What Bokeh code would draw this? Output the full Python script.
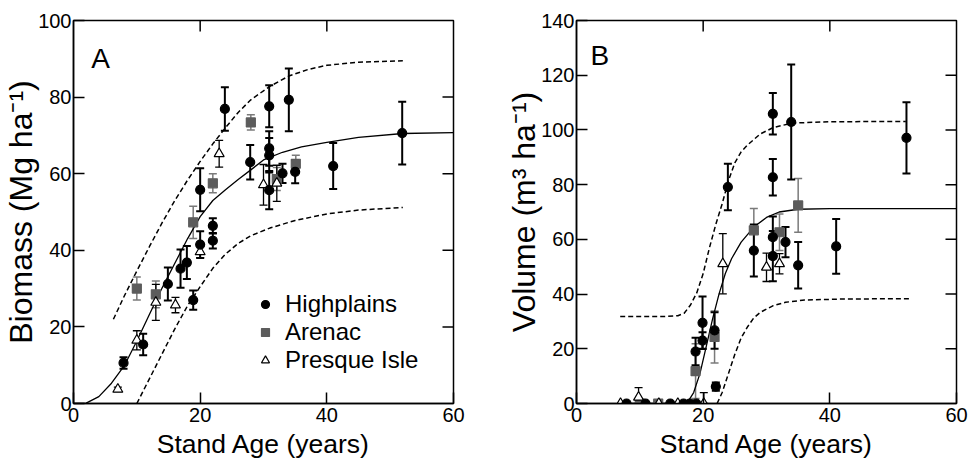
from bokeh.plotting import figure
from bokeh.layouts import row
from bokeh.models import (ColumnDataSource, Whisker, TeeHead, Range1d, FixedTicker,
                          Label, Legend, LegendItem, Title)
from bokeh.embed import file_html
from bokeh.resources import INLINE

FONT = "Liberation Sans"

# ---------------- Panel A : Biomass ----------------
a_hp_x = [7.9, 11.0, 14.9, 16.9, 17.9, 18.9, 20.0, 20.0, 22.0, 22.0, 23.9, 27.9, 30.9, 30.9, 30.9, 30.9, 33.0, 34.0, 35.0, 41.0, 51.9]
a_hp_y = [10.6, 15.4, 31.2, 35.2, 36.8, 27.0, 41.5, 55.8, 42.5, 46.4, 76.9, 63.0, 77.6, 66.6, 64.8, 55.7, 60.1, 79.3, 60.5, 62.0, 70.6]
a_hp_e = [1.5, 2.8, 4.3, 5.0, 4.3, 2.5, 3.5, 5.6, 2.0, 2.0, 5.7, 4.5, 5.5, 4.5, 4.5, 5.0, 2.5, 8.2, 3.0, 6.0, 8.2]

a_ar_x = [10.0, 13.0, 18.9, 22.0, 28.0, 32.1, 35.1]
a_ar_y = [30.0, 28.5, 47.3, 57.5, 73.4, 58.6, 62.6]
a_ar_e = [3.0, 3.5, 4.2, 2.5, 2.0, 3.0, 2.2]

a_pi_x = [7.0, 10.0, 13.0, 16.1, 20.0, 23.0, 30.0, 32.1]
a_pi_y = [3.7, 16.5, 26.4, 25.7, 39.6, 65.2, 57.1, 57.5]
a_pi_e = [0.6, 2.5, 4.7, 2.0, 1.5, 3.5, 5.3, 4.7]

a_fit_x = [0, 2, 4, 6, 8, 10, 12, 14, 16, 18, 20, 22, 24, 26, 28, 30, 33, 36, 40, 45, 52, 60]
a_fit_y = [0, 0.1, 1.8, 5.3, 9.8, 16.3, 23.3, 30.2, 36.6, 43.0, 48.8, 53.0, 55.8, 58.5, 61.0, 63.6, 65.6, 67.0, 68.2, 69.5, 70.5, 70.7]
a_up_x = [6.3, 8, 10, 12, 14, 16, 18, 20, 22, 24, 26, 28, 31, 34, 37, 40, 45, 52]
a_up_y = [22.0, 28.0, 34.6, 41.0, 47.2, 53.0, 58.3, 63.2, 67.8, 72.0, 76.0, 79.3, 82.8, 85.5, 87.2, 88.3, 89.1, 89.5]
a_lo_x = [10, 12, 14, 16, 18, 20, 22, 24, 26, 28, 31, 35, 40, 45, 52]
a_lo_y = [0, 6.5, 13.0, 19.5, 25.5, 30.5, 35.3, 39.0, 41.8, 43.8, 45.8, 47.8, 49.5, 50.5, 51.2]

# ---------------- Panel B : Volume ----------------
b_hp_x = [7.9, 10.9, 14.8, 16.9, 17.9, 18.9, 18.8, 19.9, 19.9, 21.8, 22.0, 23.9, 28.0, 31.0, 31.0, 31.0, 31.0, 33.0, 33.9, 35.0, 41.0, 52.1]
b_hp_y = [0, 0, 0, 0, 0, 0, 19.0, 23.0, 29.5, 26.7, 6.2, 79.1, 55.9, 105.9, 82.7, 60.8, 53.9, 59.0, 102.9, 50.5, 57.4, 97.1]
b_hp_e = [0, 0, 0, 0, 0, 0, 5.0, 3.0, 9.6, 6.7, 1.5, 8.5, 9.5, 7.6, 6.7, 7.6, 9.2, 5.5, 21.0, 8.5, 10.0, 13.0]

b_ar_x = [10.0, 12.9, 18.8, 21.8, 28.0, 32.05, 35.0]
b_ar_y = [0, 0, 11.8, 24.3, 63.3, 62.6, 72.4]
b_ar_e = [0, 0, 10.0, 9.5, 8.0, 6.7, 9.8]

b_pi_x = [6.95, 9.8, 13.0, 16.0, 20.1, 23.1, 30.0, 32.05]
b_pi_y = [0, 2.3, 0, 0, 0, 51.1, 49.8, 51.1]
b_pi_e = [0, 3.5, 0, 0, 4.0, 11.0, 5.2, 3.7]

b_fit_x = [7, 15, 17, 17.5, 18.5, 19.5, 20.5, 21.5, 22.5, 23.5, 24.5, 26, 28, 30, 32, 35, 40, 50, 60]
b_fit_y = [0, 0, 0, 0.3, 4, 11, 21, 31, 40, 47.5, 53, 59, 64.5, 68, 70, 71, 71.2, 71.2, 71.2]
b_up_x = [6.9, 10, 14, 16, 17, 18, 19, 20, 21, 22, 23, 24, 25, 26, 27, 29, 31, 34, 40, 52]
b_up_y = [31.8, 31.8, 31.8, 32.1, 33.0, 36.0, 40.5, 47.5, 57.0, 65.5, 73.0, 81.5, 88.0, 92.0, 94.5, 98.5, 100.8, 102.5, 103.0, 103.1]
b_lo_x = [22.2, 23, 24, 25, 26, 27, 28, 29, 31, 33, 36, 42, 52.5]
b_lo_y = [0, 4, 11, 18, 24, 28, 31.3, 33.3, 35.7, 37.0, 37.8, 38.2, 38.3]

x_ticks = [0, 20, 40, 60]
a_y_ticks = [0, 20, 40, 60, 80, 100]
b_y_ticks = [0, 20, 40, 60, 80, 100, 120, 140]
series_names = ["Highplains", "Arenac", "Presque Isle"]

SQ_FILL = "#5c5c5c"
SQ_ERR = "#7a7a7a"
FRAME_W = 380
FRAME_H = 383
TICK_PX = 11


def style_axes(p, yt, ymax):
    for ax in p.xaxis + p.yaxis:
        ax.major_tick_in = TICK_PX
        ax.major_tick_out = 0
        ax.minor_tick_line_color = None
        ax.axis_line_color = "black"
        ax.axis_line_width = 1.5
        ax.major_tick_line_color = "black"
        ax.major_tick_line_width = 1.5
        ax.major_label_text_font = FONT
        ax.major_label_text_font_size = "20px"
        ax.major_label_text_color = "black"
    p.xaxis.ticker = FixedTicker(ticks=x_ticks)
    p.yaxis.ticker = FixedTicker(ticks=yt)
    p.xaxis.major_label_standoff = 4
    p.yaxis.major_label_standoff = 2
    p.xgrid.visible = False
    p.ygrid.visible = False
    p.outline_line_color = "black"
    p.outline_line_width = 1.5
    # inner mirror ticks on the top and right edges of the frame
    xin = [t for t in x_ticks if 0 < t < 60]
    yin = [t for t in yt if 0 < t < ymax]
    dy = TICK_PX * ymax / FRAME_H
    dx = TICK_PX * 60 / FRAME_W
    p.segment(x0=xin, y0=[ymax] * len(xin), x1=xin, y1=[ymax - dy] * len(xin),
              line_color="black", line_width=1.5)
    p.segment(x0=[60] * len(yin), y0=yin, x1=[60 - dx] * len(yin), y1=yin,
              line_color="black", line_width=1.5)


def add_series(p, xs, ys, es, marker, size, fill, line, ecol, ew):
    bx, up, lo = [], [], []
    for x, y, e in zip(xs, ys, es):
        if e > 0:
            bx.append(x)
            up.append(y + e)
            lo.append(max(y - e, 0))
    wsrc = ColumnDataSource(dict(base=bx, upper=up, lower=lo))
    w = Whisker(source=wsrc, base="base", upper="upper", lower="lower", dimension="height",
                line_color=ecol, line_width=ew, level="underlay",
                upper_head=TeeHead(size=8, line_color=ecol, line_width=ew),
                lower_head=TeeHead(size=8, line_color=ecol, line_width=ew))
    p.add_layout(w)
    src = ColumnDataSource(dict(x=xs, y=ys))
    return p.scatter("x", "y", source=src, marker=marker, size=size,
                     fill_color=fill, line_color=line, line_width=1.2)


def make_panel(width, mbl, mbr, ymax, yt, fit, up, lo, hp, ar, pi, letter, letter_xy,
               ytitle, xoff):
    p = figure(width=width, height=462, output_backend="svg", toolbar_location=None,
               x_range=Range1d(0, 60), y_range=Range1d(0, ymax),
               min_border_left=mbl, min_border_right=mbr, min_border_top=20, min_border_bottom=59)
    p.background_fill_color = "white"
    p.border_fill_color = "white"
    style_axes(p, yt, ymax)
    p.line(up[0], up[1], line_color="black", line_width=1.5, line_dash="5 3")
    p.line(lo[0], lo[1], line_color="black", line_width=1.5, line_dash="5 3")
    p.line(fit[0], fit[1], line_color="black", line_width=1.3)
    r_ar = add_series(p, ar[0], ar[1], ar[2], "square", 9, SQ_FILL, SQ_FILL, SQ_ERR, 1.5)
    r_pi = add_series(p, pi[0], pi[1], pi[2], "triangle", 10, "white", "black", "black", 1.3)
    r_hp = add_series(p, hp[0], hp[1], hp[2], "circle", 9, "black", "black", "black", 2.0)
    p.add_layout(Label(x=letter_xy[0], y=letter_xy[1], text=letter, text_font=FONT,
                       text_font_size="28px", text_color="black", text_baseline="alphabetic"))
    p.add_layout(Title(text=ytitle, align="center", offset=-34, standoff=-6,
                       text_font=FONT, text_font_size="32px", text_font_style="normal",
                       text_color="black"), "left")
    p.add_layout(Title(text="Stand Age (years)", align="center", offset=xoff, standoff=4,
                       text_font=FONT, text_font_size="26.5px", text_font_style="normal",
                       text_color="black"), "below")
    return p, (r_hp, r_ar, r_pi)


pA, rendA = make_panel(500, 73, 47, 100, a_y_ticks,
                       (a_fit_x, a_fit_y), (a_up_x, a_up_y), (a_lo_x, a_lo_y),
                       (a_hp_x, a_hp_y, a_hp_e), (a_ar_x, a_ar_y, a_ar_e), (a_pi_x, a_pi_y, a_pi_e),
                       "A", (2.8, 90.2), "Biomass (Mg ha\u207b\u00b9)", 6)

pB, rendB = make_panel(471, 76, 15, 140, b_y_ticks,
                       (b_fit_x, b_fit_y), (b_up_x, b_up_y), (b_lo_x, b_lo_y),
                       (b_hp_x, b_hp_y, b_hp_e), (b_ar_x, b_ar_y, b_ar_e), (b_pi_x, b_pi_y, b_pi_e),
                       "B", (2.2, 127.2), "Volume (m\u00b3 ha\u207b\u00b9)", 9)

legend = Legend(items=[LegendItem(label=n, renderers=[r]) for n, r in zip(series_names, rendA)],
                location=(182, 29), label_text_font=FONT, label_text_font_size="24px",
                label_text_color="black",
                glyph_width=20, glyph_height=24, label_height=24, label_standoff=10,
                spacing=0, padding=0, margin=0, border_line_color=None,
                background_fill_alpha=0)
pA.add_layout(legend)

layout = row(pA, pB)
open("out.html", "w").write(file_html(layout, INLINE))
